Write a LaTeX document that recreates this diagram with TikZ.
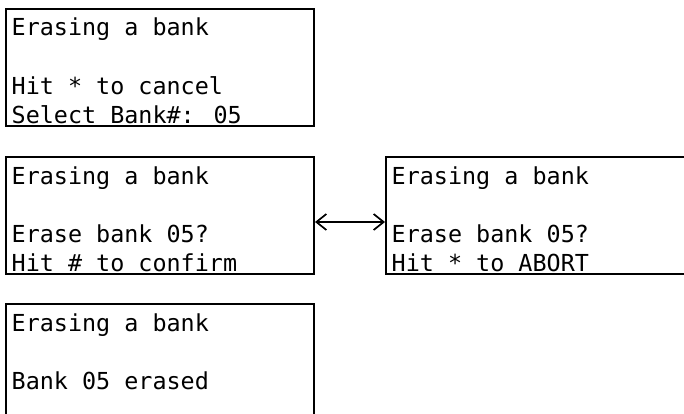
\documentclass[tikz,border=0pt]{standalone}
\usepackage{fontspec}
\newfontfamily\lcdfont{DejaVu Sans Mono}
\usetikzlibrary{arrows.meta,positioning}

\begin{document}
\begin{tikzpicture}[x=1pt, y=1pt, >={Straight Barb[length=10pt,width=16pt]},
  screen/.style={rectangle, draw, line width=2pt, anchor=north west,
    text width=296.6pt, align=flush left, inner xsep=5.7pt, inner ysep=0pt,
    text height=27pt, text depth=90pt,
    font=\lcdfont\fontsize{23.4}{29.3}\selectfont}]
  \useasboundingbox (0,0) rectangle (684,-414);

  \node (select) [screen] at (5,-8)
    {Erasing a bank\\ \mbox{}\\ Hit * to cancel\\ Select Bank\#: 05};
  \node (confirm) [screen, below=29pt of select]
    {Erasing a bank\\ \mbox{}\\ Erase bank 05?\\ Hit \# to confirm};
  \node (abort) [screen, right=70pt of confirm]
    {Erasing a bank\\ \mbox{}\\ Erase bank 05?\\ Hit * to ABORT};
  \node (erased) [screen, below=28pt of confirm]
    {Erasing a bank\\ \mbox{}\\ Bank 05 erased\\ \mbox{}};

  \draw[<->, line width=1.7pt] ([yshift=-6.5pt]confirm.east) -- ([yshift=-6.5pt]abort.west);
\end{tikzpicture}
\end{document}
